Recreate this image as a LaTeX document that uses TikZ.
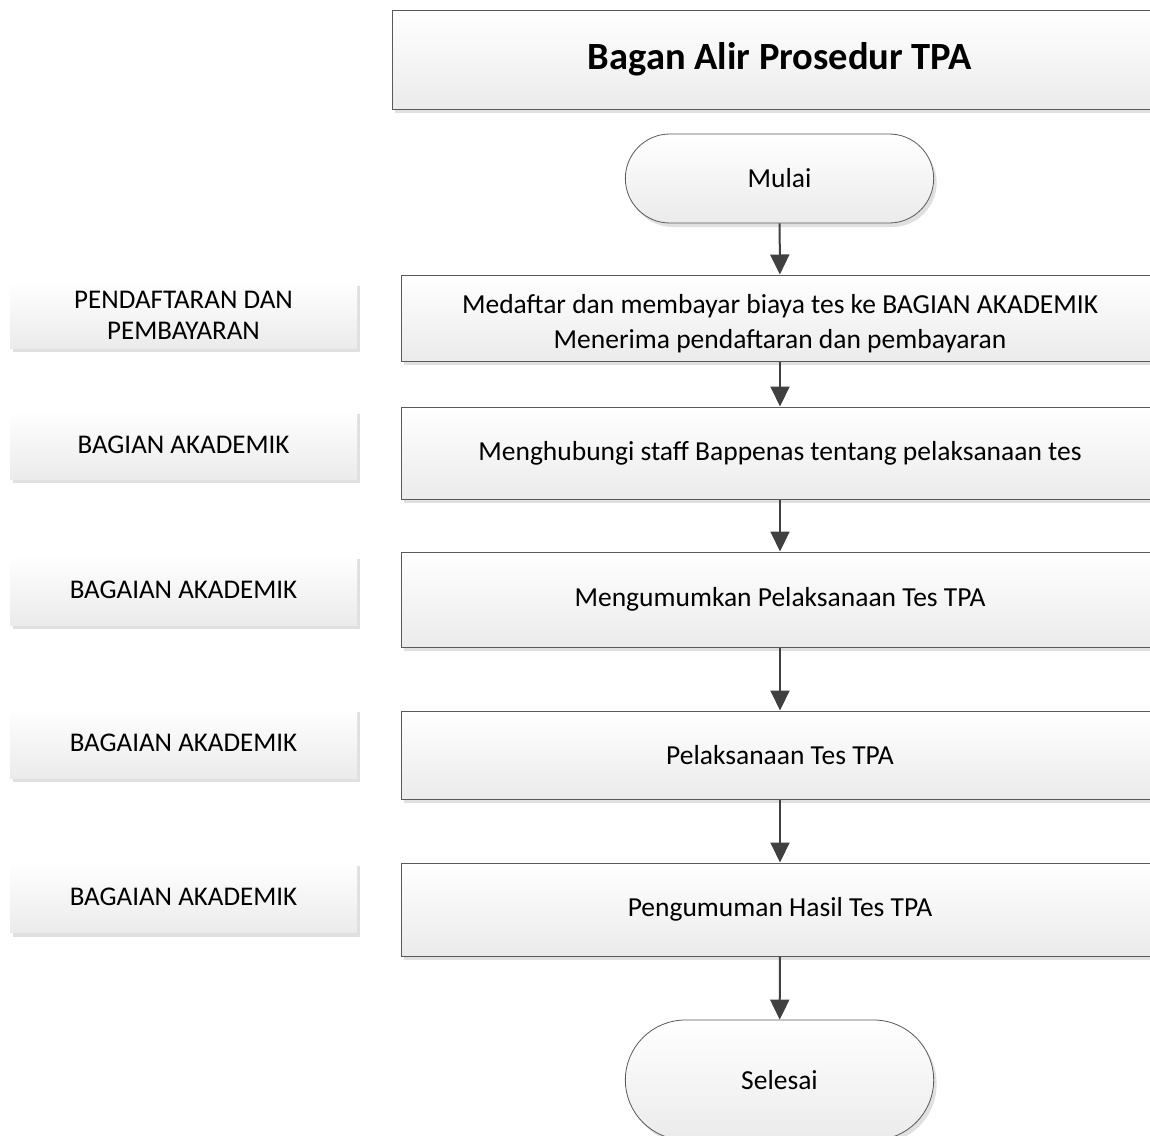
\documentclass[tikz,border=0pt]{standalone}
\usepackage{fontspec}
\setmainfont{Carlito}
\usetikzlibrary{arrows.meta,shapes.misc,shadows}

\definecolor{edgegray}{HTML}{595959}
\definecolor{arrowgray}{HTML}{404040}
\definecolor{fillgray}{HTML}{EBEBEB}
\definecolor{shadegray}{HTML}{E0E0E0}

\begin{document}
\begin{tikzpicture}[x=1pt,y=-1pt,
  boxshadow/.style={drop shadow={shadow xshift=3pt,shadow yshift=-4pt,fill=shadegray,opacity=1}},
  proc/.style={rectangle,draw=edgegray,line width=1pt,top color=white,bottom color=fillgray,
    minimum width=758pt,align=center,boxshadow,font=\fontsize{27.5}{35}\selectfont},
  term/.style={rounded rectangle,draw=edgegray,line width=0.8pt,top color=white,bottom color=fillgray,
    minimum width=315pt,boxshadow,font=\fontsize{27.5}{33}\selectfont},
  lane/.style={rectangle,top color=white,bottom color=fillgray,minimum width=347pt,
    align=center,boxshadow,font=\fontsize{27}{31}\selectfont},
  flow/.style={draw=arrowgray,line width=2pt,-{Triangle[length=20pt,width=19pt]}}]
  \useasboundingbox (0,0) rectangle (1150,1135);
  \clip (0,0) rectangle (1150,1135);
  % title
  \node[proc,minimum width=776pt,minimum height=99pt,
    font=\fontsize{38.5}{44}\selectfont\bfseries] (judul) at (780,59.5) {Bagan Alir Prosedur TPA};
  % start and end
  \node[term,minimum height=89pt] (mulai) at (779.5,178.5) {Mulai};
  \node[term,minimum height=120pt] (selesai) at (779.5,1080) {Selesai};
  % steps of the procedure
  \node[proc,minimum height=86pt] (p1) at (780,318)
    {\rule{0pt}{31pt}Medaftar dan membayar biaya tes ke BAGIAN AKADEMIK\\Menerima pendaftaran dan pembayaran};
  \node[proc,minimum height=92pt] (p2) at (780,453) {Menghubungi staff Bappenas tentang pelaksanaan tes};
  \node[proc,minimum height=95pt] (p3) at (780,599.5) {Mengumumkan Pelaksanaan Tes TPA};
  \node[proc,minimum height=88pt] (p4) at (780,755) {Pelaksanaan Tes TPA};
  \node[proc,minimum height=93pt] (p5) at (780,909.5) {Pengumuman Hasil Tes TPA};
  % who does what, on the left
  \foreach \name/\y/\h/\txt in {lane1/315/66/{PENDAFTARAN DAN\\PEMBAYARAN},
                                lane2/444.5/69/{BAGIAN AKADEMIK},
                                lane3/590/70/{BAGAIAN AKADEMIK},
                                lane4/743/70/{BAGAIAN AKADEMIK},
                                lane5/897/71/{BAGAIAN AKADEMIK}}{%
    \node[lane,minimum height=\h pt] (\name) at (183.5,\y) {\txt};
  }
  % connectors
  \draw[flow] (mulai) -- (p1);
  \draw[flow] (p1) -- (p2);
  \draw[flow] (p2) -- (p3);
  \draw[flow] (p3) -- (p4);
  \draw[flow] (p4) -- (p5);
  \draw[flow] (p5) -- (selesai);
\end{tikzpicture}
\end{document}
